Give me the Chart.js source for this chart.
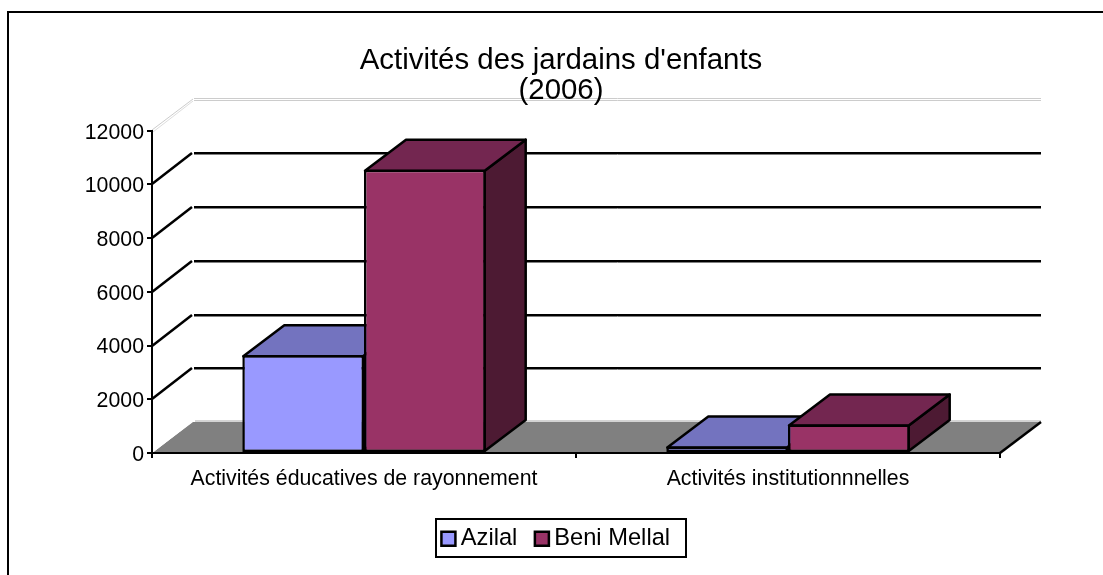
<!DOCTYPE html>
<html><head><meta charset="utf-8">
<style>html,body{margin:0;padding:0;background:#fff;overflow:hidden}canvas{display:block}</style>
<script src="https://cdn.jsdelivr.net/npm/chart.js@4"></script>
</head><body><canvas id="c" width="1103" height="575"></canvas>
<script>
const categories = ["Activités éducatives de rayonnement", "Activités institutionnnelles"];
const azilal = [3640, 240];
const beniMellal = [10550, 1060];
const titleLines = ["Activités des jardains d'enfants", "(2006)"];

const FONT = '"Liberation Sans", Arial, sans-serif';
const DX = 41, DY = -31, CX = 561;
const faces = {
  "#9999FF": {top: "#7373BF", side: "#4D4D80"},
  "#993366": {top: "#732650", side: "#4D1A33"}
};

function poly(ctx, pts, fill, stroke, lw) {
  ctx.beginPath();
  pts.forEach((p, i) => i ? ctx.lineTo(p[0], p[1]) : ctx.moveTo(p[0], p[1]));
  ctx.closePath();
  if (fill) { ctx.fillStyle = fill; ctx.fill(); }
  if (stroke) { ctx.strokeStyle = stroke; ctx.lineWidth = lw; ctx.lineJoin = "round"; ctx.stroke(); }
}
function seg(ctx, x1, y1, x2, y2, color, lw) {
  ctx.beginPath(); ctx.moveTo(x1, y1); ctx.lineTo(x2, y2);
  ctx.strokeStyle = color; ctx.lineWidth = lw; ctx.stroke();
}

const threeD = {
  id: "threeD",
  afterLayout(chart) {
    const w = 1082;
    chart.titleBlock.left = CX - w / 2; chart.titleBlock.right = CX + w / 2;
    const lg = chart.legend;
    lg.left = CX - 2 - w / 2; lg.right = CX - 2 + w / 2;
    lg.top = 503; lg.bottom = lg.top + lg.height;
  },
  beforeDraw(chart) {
    const ctx = chart.ctx, y = chart.scales.y, a = chart.chartArea;
    ctx.save();
    ctx.fillStyle = "#fff"; ctx.fillRect(0, 0, chart.width, chart.height);
    const y0 = y.getPixelForValue(0);
    // floor
    poly(ctx, [[a.left, y0], [a.left + DX, y0 + DY], [a.right + DX, y0 + DY], [a.right, y0]], "#808080");
    seg(ctx, a.left + DX + 2, y0 + DY - 1, a.right + DX, y0 + DY - 1, "#a8a8a8", 1);
    seg(ctx, a.left + 1, y0 - 1, a.left + DX, y0 + DY - 1, "#ffffff", 1);
    seg(ctx, a.right, y0, a.right + DX, y0 + DY, "#000", 2.5);
    // gridlines on the walls
    y.ticks.forEach(t => {
      const p = Math.round(y.getPixelForValue(t.value));
      if (t.value === 0) return;
      if (t.value === y.max) {
        seg(ctx, a.left + DX + 1, p + DY - 1.5, a.right + DX, p + DY - 1.5, "#cccccc", 1);
        seg(ctx, a.left + DX + 1, p + DY + 0.5, a.right + DX, p + DY + 0.5, "#cccccc", 1);
        seg(ctx, a.left, p - 1, a.left + DX, p + DY - 1, "#cccccc", 1);
        seg(ctx, a.left + 1, p + 1, a.left + DX, p + DY + 1, "#dddddd", 1);
        return;
      }
      seg(ctx, a.left, p, a.left + DX - 1, p + DY, "#000", 2.5);
      seg(ctx, a.left + DX + 1, p + DY, a.right + DX, p + DY, "#000", 2);
      seg(ctx, a.left + DX + 1, p + DY + 1.5, a.right + DX, p + DY + 1.5, "#808080", 1);
    });
    ctx.restore();
  },
  beforeDatasetsDraw(chart) {
    const ctx = chart.ctx;
    ctx.save();
    chart.data.labels.forEach((_, i) => {
      chart.data.datasets.forEach((ds, d) => {
        const el = chart.getDatasetMeta(d).data[i];
        const {x, y, base, width} = el.getProps(["x", "y", "base", "width"], true);
        const l = x - width / 2 + 1, r = x + width / 2 - 1, t = y + 1, b = base - 1;
        const f = faces[ds.backgroundColor];
        poly(ctx, [[r, t], [r + DX, t + DY], [r + DX, b + DY], [r, b]], f.side, "#000", 2.5);
        poly(ctx, [[l, t], [l + DX, t + DY], [r + DX, t + DY], [r, t]], f.top, "#000", 2.5);
      });
    });
    ctx.restore();
  },
  afterDraw(chart) {
    const ctx = chart.ctx;
    ctx.save();
    ctx.strokeStyle = "#000"; ctx.lineWidth = 2;
    ctx.strokeRect(436, 519, 250, 38);
    ctx.fillStyle = "#000";
    ctx.fillRect(7, 11, 2, chart.height - 11);
    ctx.fillRect(7, 11, chart.width - 7, 2);
    ctx.restore();
  }
};

new Chart(document.getElementById("c"), {
  type: "bar",
  data: {
    labels: categories,
    datasets: [
      {label: "Azilal", data: azilal, backgroundColor: "#9999FF", borderColor: "#000", borderWidth: 2.5, borderSkipped: false, clip: false},
      {label: "Beni Mellal", data: beniMellal, backgroundColor: "#993366", borderColor: "#000", borderWidth: 2.5, borderSkipped: false, clip: false}
    ]
  },
  options: {
    responsive: false,
    animation: false,
    events: [],
    layout: {padding: {left: 0, right: 103, top: 0, bottom: 0}},
    datasets: {bar: {barPercentage: 1, categoryPercentage: 0.574}},
    scales: {
      x: {
        grid: {drawOnChartArea: false, drawTicks: true, tickLength: 5, tickColor: "#000", lineWidth: 2, offset: true},
        border: {color: "#000", width: 2},
        ticks: {color: "#000", font: {family: FONT, size: 21.3}, padding: 8, maxRotation: 0},
        afterFit(s) { s.height = 64.3; }
      },
      y: {
        min: 0, max: 12000,
        grid: {drawOnChartArea: false, drawTicks: true, tickLength: 5, tickColor: "#000", lineWidth: 2},
        border: {color: "#000", width: 2},
        ticks: {color: "#000", stepSize: 2000, font: {family: FONT, size: 21.3}, padding: 3, labelOffset: 2, callback: v => String(v)},
        afterFit(s) { s.width = 152; }
      }
    },
    plugins: {
      tooltip: {enabled: false},
      title: {display: true, text: titleLines, color: "#000", z: 1,
        font: {family: FONT, size: 29.4, weight: "normal", lineHeight: 1.05},
        padding: {top: 45, bottom: 24}},
      legend: {display: true, position: "bottom",
        labels: {color: "#000", font: {family: FONT, size: 23.7}, boxWidth: 1, boxHeight: 14, padding: 24, usePointStyle: true, pointStyle: "rect"}}
    }
  },
  plugins: [threeD]
});
</script></body></html>
